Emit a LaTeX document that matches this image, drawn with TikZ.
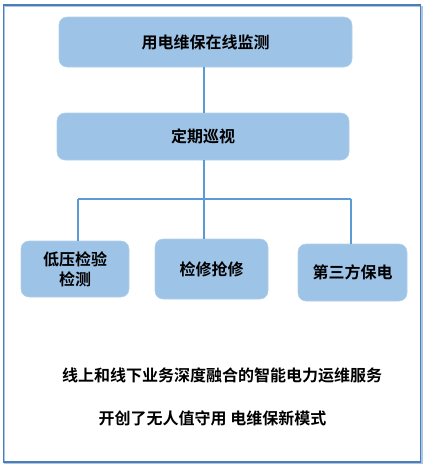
\documentclass[tikz,border=0pt]{standalone}
\usepackage{fontspec}
\newfontfamily\cjk{Noto Sans CJK SC Bold}
\definecolor{boxfill}{RGB}{157,195,230}
\definecolor{linec}{RGB}{91,155,213}
\definecolor{framec}{RGB}{74,126,187}
\begin{document}
\begin{tikzpicture}[x=0.75pt,y=-0.75pt,
  box/.style={fill=boxfill,draw=boxfill!80!white,line width=0.4pt,rounded corners=6pt,align=center,font=\cjk\fontsize{12}{15}\selectfont,inner sep=0pt},
  conn/.style={draw=linec,line width=0.8pt}]
\useasboundingbox (0,0) rectangle (425,468);
\draw[framec!45!white,line width=1.2pt] (4.5,6.5) rectangle (422,463.5);
\draw[framec,line width=1.3pt] (3.5,5) rectangle (420.5,462);
\node[box,minimum width=293*0.75pt,minimum height=50*0.75pt] (top) at (205.5,42) {用电维保在线监测};
\node[box,minimum width=292*0.75pt,minimum height=47*0.75pt] (mid) at (203,136.5) {定期巡视};
\node[box,minimum width=108*0.75pt,minimum height=56*0.75pt] (b1) at (75,269) {低压检验\\检测};
\node[box,minimum width=113*0.75pt,minimum height=60*0.75pt] (b2) at (211.5,269) {检修抢修};
\node[box,minimum width=109*0.75pt,minimum height=57*0.75pt] (b3) at (352.5,272.5) {第三方保电};
\coordinate (hl) at (78,199);
\coordinate (hr) at (351,199);
\coordinate (hc) at (204,199);
\draw[conn] (204,67) -- (204,113);
\draw[conn] (204,160) -- (hc);
\draw[conn] (hl) -- (hr);
\draw[conn] (hl) -- (78,241);
\draw[conn] (hc) -- (204,239);
\draw[conn] (hr) -- (351,244);
\node[font=\cjk\fontsize{12}{14}\selectfont,inner sep=0pt] (t1) at (222,375) {线上和线下业务深度融合的智能电力运维服务};
\node[font=\cjk\fontsize{12}{14}\selectfont,inner sep=0pt] (t2) at (212.5,418) {开创了无人值守用 电维保新模式};
\end{tikzpicture}
\end{document}
